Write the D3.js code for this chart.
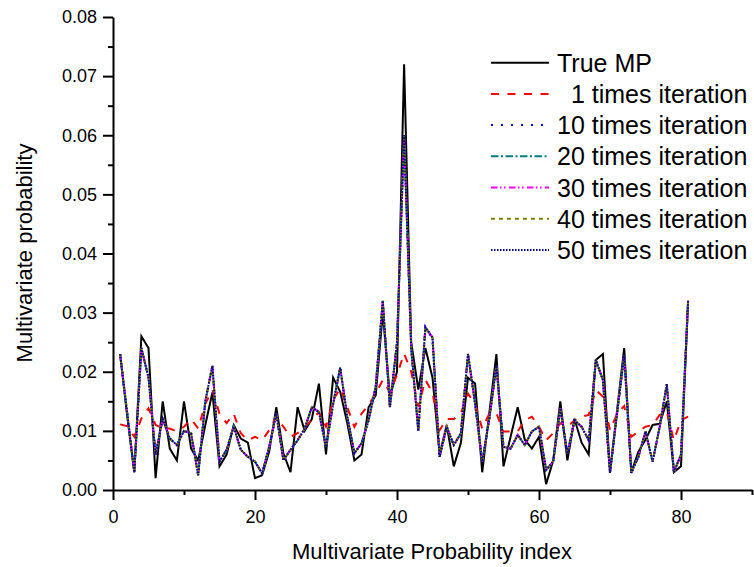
<!DOCTYPE html>
<html>
<head>
<meta charset="utf-8">
<script src="https://cdn.jsdelivr.net/npm/d3@7"></script>
<style>
  html, body { margin: 0; padding: 0; background: #fff; }
  svg { display: block; font-family: "Liberation Sans", Arial, sans-serif; }
</style>
</head>
<body>
<svg id="chart" width="754" height="567"></svg>
<script>
// Multivariate probability per index (1..81)
const indices = d3.range(1, 82);

const trueMP = [
  0.023, 0.0125, 0.003, 0.026, 0.024, 0.002, 0.015, 0.007, 0.005, 0.015,
  0.007, 0.005, 0.011, 0.0165, 0.004, 0.006, 0.011, 0.0087, 0.008, 0.002,
  0.0025, 0.0065, 0.014, 0.0062, 0.003, 0.014, 0.010, 0.012, 0.018, 0.006,
  0.019, 0.0166, 0.0113, 0.005, 0.006, 0.014, 0.016, 0.030, 0.0158, 0.020,
  0.072, 0.025, 0.017, 0.024, 0.019, 0.006, 0.011, 0.004, 0.008, 0.019,
  0.018, 0.003, 0.013, 0.023, 0.004, 0.009, 0.014, 0.0085, 0.007, 0.009,
  0.001, 0.005, 0.015, 0.005, 0.012, 0.008, 0.006, 0.022, 0.023, 0.003,
  0.0135, 0.024, 0.003, 0.0065, 0.0085, 0.011, 0.0112, 0.015, 0.003, 0.004,
  0.032
];

const iter1 = [
  0.0111, 0.0108, 0.009, 0.0121, 0.0138, 0.011, 0.0104, 0.0104, 0.0099, 0.0107,
  0.012, 0.0104, 0.0146, 0.0169, 0.0129, 0.0113, 0.0129, 0.0096, 0.0084, 0.009,
  0.0084, 0.0101, 0.0124, 0.0107, 0.009, 0.0096, 0.0107, 0.0118, 0.0132, 0.0107,
  0.0152, 0.0172, 0.014, 0.0107, 0.0129, 0.0144, 0.0163, 0.0186, 0.0165, 0.0195,
  0.0231, 0.020, 0.0141, 0.0186, 0.0165, 0.0101, 0.012, 0.012, 0.013, 0.0163,
  0.0146, 0.0104, 0.0129, 0.013, 0.0099, 0.0099, 0.0099, 0.0118, 0.0124, 0.0107,
  0.0084, 0.0096, 0.0113, 0.0107, 0.0118, 0.0124, 0.0127, 0.0169, 0.0158, 0.0101,
  0.0129, 0.0142, 0.009, 0.0099, 0.0107, 0.011, 0.0127, 0.0132, 0.0084, 0.0118,
  0.0124
];

const iter10 = [
  0.023, 0.013, 0.003, 0.024, 0.019, 0.006, 0.012, 0.0087, 0.0076, 0.010,
  0.0096, 0.0025, 0.015, 0.021, 0.0048, 0.0068, 0.0107, 0.0068, 0.0056, 0.0048,
  0.0028, 0.0073, 0.0129, 0.005, 0.0068, 0.0084, 0.0104, 0.014, 0.0132, 0.0073,
  0.0145, 0.0207, 0.0124, 0.0062, 0.0079, 0.0118, 0.0175, 0.032, 0.014, 0.025,
  0.060, 0.024, 0.010, 0.0276, 0.0255, 0.0056, 0.0107, 0.0076, 0.0096, 0.023,
  0.0146, 0.0048, 0.012, 0.021, 0.0073, 0.007, 0.0093, 0.0076, 0.0099, 0.0107,
  0.0034, 0.0048, 0.0138, 0.0062, 0.0118, 0.0107, 0.0084, 0.022, 0.0186, 0.0029,
  0.013, 0.0228, 0.0029, 0.0056, 0.0099, 0.0048, 0.0107, 0.0179, 0.003, 0.006,
  0.032
];

const iter20 = [
  0.023, 0.013, 0.003, 0.024, 0.019, 0.006, 0.012, 0.0087, 0.0076, 0.010,
  0.0096, 0.0025, 0.015, 0.021, 0.0048, 0.0068, 0.0107, 0.0068, 0.0056, 0.0048,
  0.0028, 0.0073, 0.0129, 0.005, 0.0068, 0.0084, 0.0104, 0.014, 0.0132, 0.0073,
  0.0145, 0.0207, 0.0124, 0.0062, 0.0079, 0.0118, 0.0175, 0.032, 0.014, 0.025,
  0.060, 0.024, 0.010, 0.0275, 0.0258, 0.0056, 0.0107, 0.0076, 0.0096, 0.023,
  0.0146, 0.0048, 0.012, 0.021, 0.0073, 0.007, 0.0093, 0.0076, 0.0099, 0.0107,
  0.0034, 0.0048, 0.0138, 0.0062, 0.0118, 0.0107, 0.0084, 0.022, 0.0186, 0.0029,
  0.013, 0.0228, 0.0029, 0.0056, 0.0099, 0.0048, 0.0107, 0.0179, 0.003, 0.006,
  0.032
];

const iter30 = [
  0.023, 0.013, 0.003, 0.024, 0.019, 0.006, 0.012, 0.0087, 0.0076, 0.010,
  0.0096, 0.0025, 0.015, 0.021, 0.0048, 0.0068, 0.0107, 0.0068, 0.0056, 0.0048,
  0.0028, 0.0073, 0.0129, 0.005, 0.0068, 0.0084, 0.0104, 0.014, 0.0132, 0.0073,
  0.0145, 0.0207, 0.0124, 0.0062, 0.0079, 0.0118, 0.0175, 0.032, 0.014, 0.025,
  0.060, 0.024, 0.010, 0.0275, 0.0258, 0.0056, 0.0107, 0.0076, 0.0096, 0.023,
  0.0146, 0.0048, 0.012, 0.021, 0.0073, 0.007, 0.0093, 0.0076, 0.0099, 0.0107,
  0.0034, 0.0048, 0.0138, 0.0062, 0.0118, 0.0107, 0.0084, 0.022, 0.0186, 0.0029,
  0.013, 0.0228, 0.0029, 0.0056, 0.0099, 0.0048, 0.0107, 0.0179, 0.003, 0.006,
  0.032
];

const iter40 = [
  0.023, 0.013, 0.003, 0.024, 0.019, 0.006, 0.012, 0.0087, 0.0076, 0.010,
  0.0096, 0.0025, 0.015, 0.021, 0.0048, 0.0068, 0.0107, 0.0068, 0.0056, 0.0048,
  0.0028, 0.0073, 0.0129, 0.005, 0.0068, 0.0084, 0.0104, 0.014, 0.0132, 0.0073,
  0.0145, 0.0207, 0.0124, 0.0062, 0.0079, 0.0118, 0.0175, 0.032, 0.014, 0.025,
  0.060, 0.024, 0.010, 0.0275, 0.0258, 0.0056, 0.0107, 0.0076, 0.0096, 0.023,
  0.0146, 0.0048, 0.012, 0.021, 0.0073, 0.007, 0.0093, 0.0076, 0.0099, 0.0107,
  0.0034, 0.0048, 0.0138, 0.0062, 0.0118, 0.0107, 0.0084, 0.022, 0.0186, 0.0029,
  0.013, 0.0228, 0.0029, 0.0056, 0.0099, 0.0048, 0.0107, 0.0179, 0.003, 0.006,
  0.032
];

const iter50 = [
  0.023, 0.013, 0.003, 0.024, 0.019, 0.006, 0.012, 0.0087, 0.0076, 0.010,
  0.0096, 0.0025, 0.015, 0.021, 0.0048, 0.0068, 0.0107, 0.0068, 0.0056, 0.0048,
  0.0028, 0.0073, 0.0129, 0.005, 0.0068, 0.0084, 0.0104, 0.014, 0.0132, 0.0073,
  0.0145, 0.0207, 0.0124, 0.0062, 0.0079, 0.0118, 0.0175, 0.032, 0.014, 0.025,
  0.060, 0.024, 0.010, 0.0275, 0.0258, 0.0056, 0.0107, 0.0076, 0.0096, 0.023,
  0.0146, 0.0048, 0.012, 0.021, 0.0073, 0.007, 0.0093, 0.0076, 0.0099, 0.0107,
  0.0034, 0.0048, 0.0138, 0.0062, 0.0118, 0.0107, 0.0084, 0.022, 0.0186, 0.0029,
  0.013, 0.0228, 0.0029, 0.0056, 0.0099, 0.0048, 0.0107, 0.0179, 0.003, 0.006,
  0.032
];

const seriesNames = ["True MP", "1 times iteration", "10 times iteration", "20 times iteration",
                     "30 times iteration", "40 times iteration", "50 times iteration"];
const seriesValues = [trueMP, iter1, iter10, iter20, iter30, iter40, iter50];
const seriesColors = ["#000000", "#ff0000", "#0000ff", "#008080", "#ff00ff", "#808000", "#000080"];
const seriesDashes = [null, "8,8.5", "2,8", "7.5,2.5,2,2.5", "6.5,2.5,1.5,2.5,1.5,3.5", "4,4", "1.5,1.5"];

const xTicks = [0, 20, 40, 60, 80];
const xMinorTicks = [10, 30, 50, 70, 90];
const yTicks = [0, 0.01, 0.02, 0.03, 0.04, 0.05, 0.06, 0.07, 0.08];
const yMinorTicks = [0.005, 0.015, 0.025, 0.035, 0.045, 0.055, 0.065, 0.075];

const svg = d3.select("#chart");

const x = d3.scaleLinear().domain([0, 90]).range([113, 752]);
const y = d3.scaleLinear().domain([0, 0.08]).range([490, 17]);

// data lines
const line = d3.line()
  .x((d, i) => x(indices[i]))
  .y(d => y(d));

const lines = svg.append("g");
seriesValues.forEach((vals, k) => {
  lines.append("path")
    .datum(vals)
    .attr("d", line)
    .attr("fill", "none")
    .attr("stroke", seriesColors[k])
    .attr("stroke-width", 2)
    .attr("stroke-linejoin", "miter")
    .attr("stroke-dasharray", seriesDashes[k]);
});

// axes
const axisStyle = g => {
  g.selectAll(".domain").attr("stroke-width", 2).attr("stroke", "#000");
  g.selectAll(".tick line").attr("stroke-width", 2).attr("stroke", "#000");
  g.selectAll(".tick text").attr("font-size", 18).attr("fill", "#000")
    .attr("font-family", "'Liberation Sans', Arial, sans-serif");
};

svg.append("g")
  .attr("transform", "translate(0,490)")
  .call(d3.axisBottom(x).tickValues(xMinorTicks).tickSize(5).tickFormat(""))
  .call(g => g.select(".domain").remove())
  .call(axisStyle);

svg.append("g")
  .attr("transform", "translate(0,490)")
  .call(d3.axisBottom(x).tickValues(xTicks).tickSize(10).tickSizeOuter(0).tickPadding(10).tickFormat(d3.format("d")))
  .call(axisStyle);

svg.append("g")
  .attr("transform", "translate(113,0)")
  .call(d3.axisLeft(y).tickValues(yMinorTicks).tickSize(5).tickFormat(""))
  .call(g => g.select(".domain").remove())
  .call(axisStyle);

svg.append("g")
  .attr("transform", "translate(113,0)")
  .call(d3.axisLeft(y).tickValues(yTicks).tickSize(10).tickSizeOuter(0).tickPadding(6).tickFormat(d3.format(".2f")))
  .call(axisStyle);

// axis titles
svg.append("text")
  .attr("x", 432).attr("y", 559)
  .attr("text-anchor", "middle")
  .attr("font-size", 22)
  .text("Multivariate Probability index");

svg.append("text")
  .attr("transform", "translate(32,253) rotate(-90)")
  .attr("text-anchor", "middle")
  .attr("font-size", 22)
  .text("Multivariate probability");

// legend
const legend = svg.append("g");
const rowY = d3.range(7).map(i => 62.7 + i * 31.2);
const refText = legend.append("text").attr("font-size", 25).attr("visibility", "hidden").text("10 times iteration");
const rightEdge = 557 + refText.node().getComputedTextLength();
refText.remove();

seriesNames.forEach((name, k) => {
  legend.append("line")
    .attr("x1", 491).attr("x2", 549)
    .attr("y1", rowY[k]).attr("y2", rowY[k])
    .attr("stroke", seriesColors[k])
    .attr("stroke-width", 2)
    .attr("stroke-dasharray", seriesDashes[k]);
  const t = legend.append("text")
    .attr("y", rowY[k] + 9)
    .attr("font-size", 25)
    .text(name);
  if (k === 1) {
    t.attr("x", rightEdge).attr("text-anchor", "end");
  } else {
    t.attr("x", 557);
  }
});
</script>
</body>
</html>
